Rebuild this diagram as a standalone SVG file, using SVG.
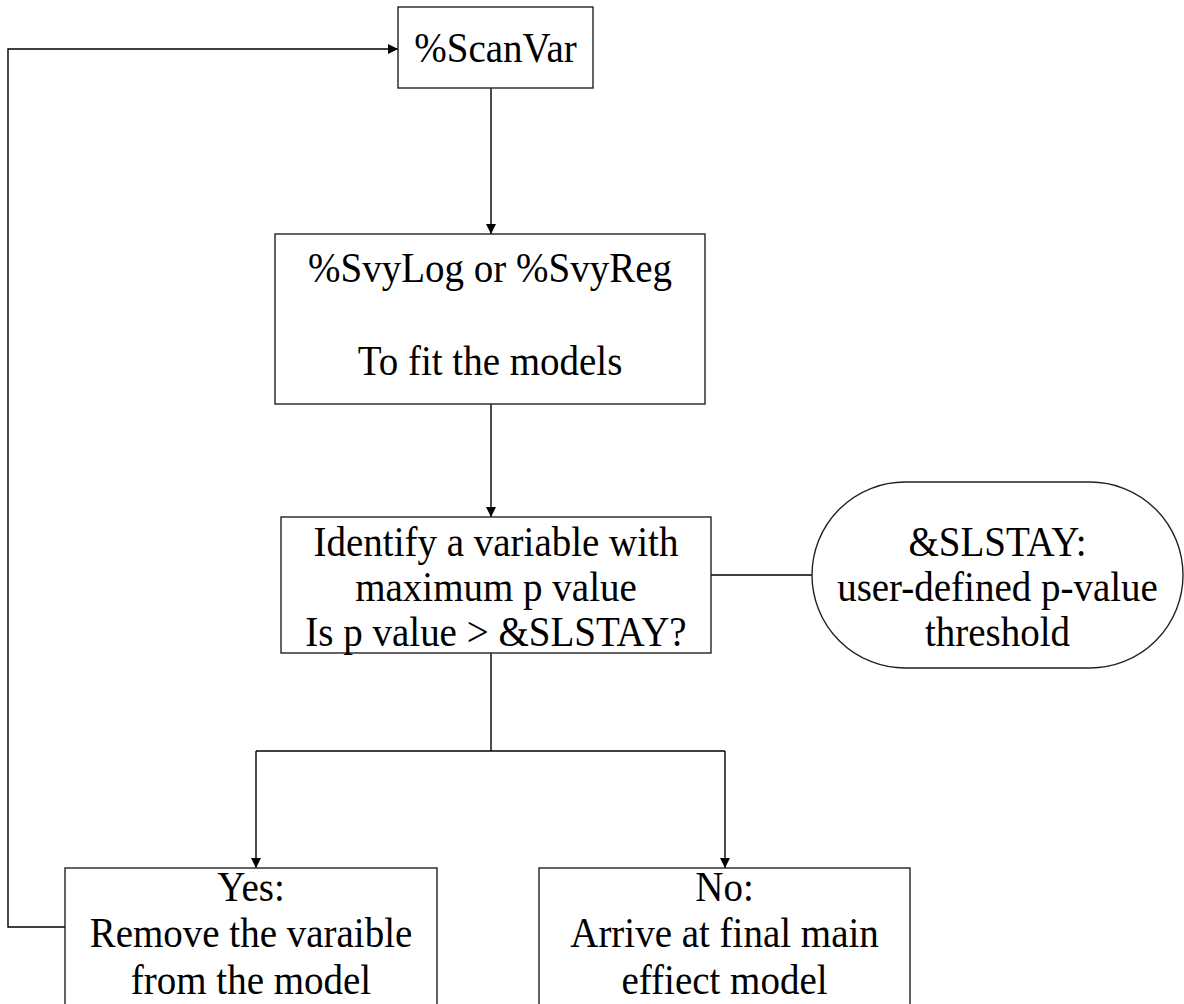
<svg xmlns="http://www.w3.org/2000/svg" width="1184" height="1004" viewBox="0 0 1184 1004">
<style>
.box{fill:#fff;stroke:#222;stroke-width:1.4}
.t{font-family:"Liberation Serif","Times New Roman",serif;font-size:39px;fill:#000;text-anchor:middle}
.c{fill:none;stroke:#000;stroke-width:1.4}
</style>
<defs>
<marker id="ah" viewBox="0 0 10 10" refX="10" refY="5" markerWidth="10" markerHeight="10" markerUnits="userSpaceOnUse" orient="auto">
<path d="M0,0 L10,5 L0,10 Z" fill="#000"/>
</marker>
</defs>
<rect width="1184" height="1004" fill="#fff"/>
<g id="connectors">
<path class="c" d="M491,88 V234" marker-end="url(#ah)"/>
<path class="c" d="M491,404 V517" marker-end="url(#ah)"/>
<path class="c" d="M711,575 H812"/>
<path class="c" d="M491,653 V751"/>
<path class="c" d="M256,751 H725"/>
<path class="c" d="M256,751 V868" marker-end="url(#ah)"/>
<path class="c" d="M725,751 V868" marker-end="url(#ah)"/>
<path class="c" d="M65,927 H8 V49 H398" marker-end="url(#ah)"/>
</g>
<g id="scanvar">
<rect class="box" x="398" y="7" width="195" height="81"/>
<text class="t" transform="translate(495.5,62) scale(1,1.1)">%ScanVar</text>
</g>
<g id="svylog">
<rect class="box" x="275" y="234" width="430" height="170"/>
<text class="t" transform="translate(490,282) scale(1,1.1)">%SvyLog or %SvyReg</text>
<text class="t" transform="translate(490,375) scale(1,1.1)">To fit the models</text>
</g>
<g id="identify">
<rect class="box" x="281" y="517" width="430" height="136"/>
<text class="t" transform="translate(496,556) scale(1,1.1)">Identify a variable with</text>
<text class="t" transform="translate(496,601) scale(1,1.1)">maximum p value</text>
<text class="t" transform="translate(496,646) scale(1,1.1)">Is p value &gt; &amp;SLSTAY?</text>
</g>
<g id="slstay">
<rect class="box" x="812" y="482" width="371" height="186" rx="93" ry="93"/>
<text class="t" transform="translate(997.5,556) scale(1,1.1)">&amp;SLSTAY:</text>
<text class="t" transform="translate(997.5,601) scale(1,1.1)">user-defined p-value</text>
<text class="t" transform="translate(997.5,646) scale(1,1.1)">threshold</text>
</g>
<g id="yes">
<rect class="box" x="65" y="868" width="372" height="150"/>
<text class="t" transform="translate(251,901) scale(1,1.1)">Yes:</text>
<text class="t" transform="translate(251,947) scale(1,1.1)">Remove the varaible</text>
<text class="t" transform="translate(251,994) scale(1,1.1)">from the model</text>
</g>
<g id="no">
<rect class="box" x="539" y="868" width="371" height="150"/>
<text class="t" transform="translate(724.5,901) scale(1,1.1)">No:</text>
<text class="t" transform="translate(724.5,947) scale(1,1.1)">Arrive at final main</text>
<text class="t" transform="translate(724.5,994) scale(1,1.1)">effiect model</text>
</g>
</svg>
